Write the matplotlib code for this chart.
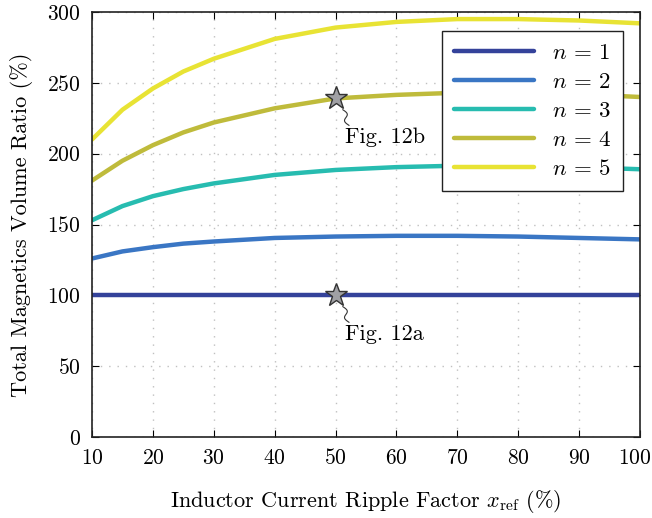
import numpy as np
import matplotlib
matplotlib.use('Agg')
import matplotlib.pyplot as plt
from matplotlib.transforms import ScaledTranslation

plt.rcParams['font.family'] = 'serif'
plt.rcParams['font.serif'] = ['cmr10', 'DejaVu Serif']
plt.rcParams['mathtext.fontset'] = 'cm'
plt.rcParams['axes.formatter.use_mathtext'] = True

# ripple factor (%)
x_ref = [10, 15, 20, 25, 30, 40, 50, 60, 70, 80, 90, 100]

# total magnetics volume ratio (%) for each n
vol_n1 = [100, 100, 100, 100, 100, 100, 100, 100, 100, 100, 100, 100]
vol_n2 = [126, 131, 134, 136.5, 138, 140.5, 141.5, 142, 142, 141.5, 140.5, 139.5]
vol_n3 = [153, 163, 170, 175, 179, 185, 188.5, 190.5, 191.5, 191.5, 190.5, 189]
vol_n4 = [181, 195, 206, 215, 222, 232, 239, 241.5, 243, 243, 242, 240]
vol_n5 = [210, 231, 246, 258, 267, 281, 289, 293, 295, 295, 294, 292]

series = [vol_n1, vol_n2, vol_n3, vol_n4, vol_n5]
labels = ['$n\\,=\\,1$', '$n\\,=\\,2$', '$n\\,=\\,3$', '$n\\,=\\,4$', '$n\\,=\\,5$']
colors = ['#34429a', '#3a76c4', '#27bcb0', '#bfbb3b', '#e8e334']

# design points shown in Fig. 12
pts_x = [50, 50]
pts_y = [100, 239]
pts_txt = ['Fig. 12a', 'Fig. 12b']

fig = plt.figure(figsize=(6.52, 5.18), dpi=100)
ax = fig.add_axes([92/652, 1-437/518, (640-92)/652, (437-12)/518])

for vals, lab, c in zip(series, labels, colors):
    ax.plot(x_ref, vals, color=c, lw=3.2, label=lab, solid_capstyle='round')

for px, py, txt in zip(pts_x, pts_y, pts_txt):
    ax.plot([px], [py], marker='*', ms=17, mfc='#a0a0a4', mec='#333333', mew=1, zorder=5)
    # little wavy leader line
    t = np.linspace(0, 1, 40)
    xs = px + 1.2 + 0.45 * np.sin(t * 2 * np.pi) + 1.0 * t
    ys = py - 8 - 11 * t
    ax.plot(xs, ys, color='#333333', lw=0.8, zorder=4)
    ax.text(px + 1.6, py - 27.5, txt, fontsize=16, ha='left', va='center')

ax.set_xlim(10, 100)
ax.set_ylim(0, 300)
ax.set_xticks(range(10, 101, 10))
ax.set_yticks(range(0, 301, 50))
ax.tick_params(direction='in', top=True, right=True, labelsize=15.5, length=5, pad=8)
ax.grid(True, linestyle=(0, (1, 5)), color='#c0c0c0', lw=1)
for s in ax.spines.values():
    s.set_linewidth(1.2)
    s.set_color('#222222')

# nudge the last x tick label so it stays inside the figure
lbl = ax.get_xticklabels()[-1]
lbl.set_transform(lbl.get_transform() + ScaledTranslation(-5/100, 0, fig.dpi_scale_trans))

ax.set_xlabel('Inductor Current Ripple Factor $x_{\\mathrm{ref}}$ (%)', fontsize=16, labelpad=14)
ax.set_ylabel('Total Magnetics Volume Ratio (%)', fontsize=16, labelpad=10)

leg = ax.legend(loc='upper right', bbox_to_anchor=(0.969, 0.955), borderaxespad=0,
                fontsize=16.5, handlelength=3.5, fancybox=False, framealpha=1,
                edgecolor='#222222', borderpad=0.5, labelspacing=0.4, handletextpad=0.8)
leg.get_frame().set_linewidth(1.0)

fig.savefig('out.png', dpi=100)
